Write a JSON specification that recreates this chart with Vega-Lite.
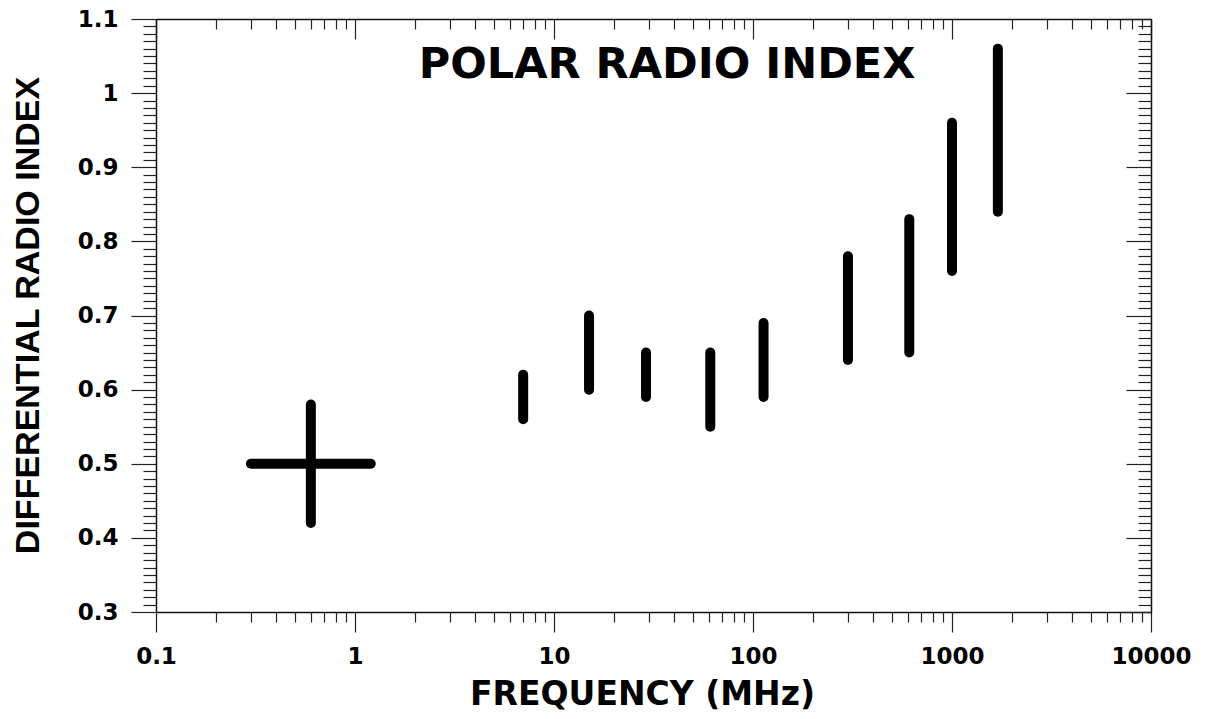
{
  "$schema": "https://vega.github.io/schema/vega-lite/v6.json",
  "width": 995,
  "height": 593,
  "autosize": {"type": "none"},
  "padding": {"left": 156, "top": 19, "right": 54, "bottom": 107},
  "background": "white",
  "config": {
    "view": {"stroke": null},
    "axis": {
      "grid": false,
      "domainColor": "#111",
      "domainWidth": 1.5,
      "tickColor": "#222",
      "tickWidth": 1.2,
      "labelFont": "DejaVu Sans",
      "labelFontWeight": "bold",
      "labelFontSize": 23,
      "labelColor": "black",
      "labelOverlap": false,
      "labelFlush": false,
      "titleColor": "black"
    }
  },
  "datasets": {
    "segments": [
      {"f1": 0.3, "f2": 1.2, "v1": 0.5, "v2": 0.5},
      {"f1": 0.6, "f2": 0.6, "v1": 0.42, "v2": 0.58},
      {"f1": 7, "f2": 7, "v1": 0.56, "v2": 0.62},
      {"f1": 15, "f2": 15, "v1": 0.60, "v2": 0.70},
      {"f1": 29, "f2": 29, "v1": 0.59, "v2": 0.65},
      {"f1": 61, "f2": 61, "v1": 0.55, "v2": 0.65},
      {"f1": 113, "f2": 113, "v1": 0.59, "v2": 0.69},
      {"f1": 300, "f2": 300, "v1": 0.64, "v2": 0.78},
      {"f1": 610, "f2": 610, "v1": 0.65, "v2": 0.83},
      {"f1": 1000, "f2": 1000, "v1": 0.76, "v2": 0.96},
      {"f1": 1700, "f2": 1700, "v1": 0.84, "v2": 1.06}
    ],
    "annotation": [
      {"text": "POLAR RADIO INDEX", "freq": 37, "index": 1.021}
    ]
  },
  "layer": [
    {
      "data": {"name": "segments"},
      "mark": {"type": "rule", "strokeWidth": 10, "strokeCap": "round", "color": "black"},
      "encoding": {
        "x": {
          "field": "f1",
          "type": "quantitative",
          "scale": {"type": "log", "domain": [0.1, 10000]},
          "axis": {
            "orient": "bottom",
            "values": [0.1,0.2,0.3,0.4,0.5,0.6,0.7,0.8,0.9,1,2,3,4,5,6,7,8,9,10,20,30,40,50,60,70,80,90,100,200,300,400,500,600,700,800,900,1000,2000,3000,4000,5000,6000,7000,8000,9000,10000],
            "format": "~g",
            "labelExpr": "abs(log(datum.value)/LN10 - round(log(datum.value)/LN10)) < 0.001 ? datum.label : ''",
            "tickSize": {"condition": {"test": "abs(log(datum.value)/LN10 - round(log(datum.value)/LN10)) < 0.001", "value": 20}, "value": 10},
            "labelPadding": 13,
            "title": "FREQUENCY (MHz)",
            "titleFont": "DejaVu Sans",
            "titleFontWeight": "bold",
            "titleFontSize": 33,
            "titleX": 486,
            "titleY": 92,
            "titleAlign": "center",
            "titleBaseline": "alphabetic"
          }
        },
        "x2": {"field": "f2"},
        "y": {
          "field": "v1",
          "type": "quantitative",
          "scale": {"domain": [0.3, 1.1], "nice": false, "zero": false},
          "axis": {
            "orient": "left",
            "values": [0.3,0.31,0.32,0.33,0.34,0.35,0.36,0.37,0.38,0.39,0.4,0.41,0.42,0.43,0.44,0.45,0.46,0.47,0.48,0.49,0.5,0.51,0.52,0.53,0.54,0.55,0.56,0.57,0.58,0.59,0.6,0.61,0.62,0.63,0.64,0.65,0.66,0.67,0.68,0.69,0.7,0.71,0.72,0.73,0.74,0.75,0.76,0.77,0.78,0.79,0.8,0.81,0.82,0.83,0.84,0.85,0.86,0.87,0.88,0.89,0.9,0.91,0.92,0.93,0.94,0.95,0.96,0.97,0.98,0.99,1,1.01,1.02,1.03,1.04,1.05,1.06,1.07,1.08,1.09,1.1],
            "format": "~g",
            "labelExpr": "abs(datum.value*10 - round(datum.value*10)) < 0.001 ? datum.label : ''",
            "tickSize": {"condition": {"test": "abs(datum.value*10 - round(datum.value*10)) < 0.001", "value": 25}, "value": 13},
            "labelPadding": 13,
            "title": "DIFFERENTIAL RADIO INDEX",
            "titleFont": "Liberation Sans",
            "titleFontWeight": "bold",
            "titleFontSize": 34,
            "titleAngle": 270,
            "titleX": -118,
            "titleY": 296,
            "titleAlign": "center",
            "titleBaseline": "alphabetic"
          }
        },
        "y2": {"field": "v2"}
      }
    },
    {
      "data": {"name": "annotation"},
      "mark": {"type": "text", "font": "DejaVu Sans", "fontWeight": "bold", "fontSize": 43, "align": "center", "baseline": "alphabetic", "color": "black"},
      "encoding": {
        "x": {
          "field": "freq",
          "type": "quantitative",
          "scale": {"type": "log", "domain": [0.1, 10000]},
          "axis": {
            "orient": "top",
            "values": [0.1,0.2,0.3,0.4,0.5,0.6,0.7,0.8,0.9,1,2,3,4,5,6,7,8,9,10,20,30,40,50,60,70,80,90,100,200,300,400,500,600,700,800,900,1000,2000,3000,4000,5000,6000,7000,8000,9000,10000],
            "labels": false,
            "title": null,
            "tickSize": {"condition": {"test": "abs(log(datum.value)/LN10 - round(log(datum.value)/LN10)) < 0.001", "value": -20}, "value": -10}
          }
        },
        "y": {
          "field": "index",
          "type": "quantitative",
          "scale": {"domain": [0.3, 1.1], "nice": false, "zero": false},
          "axis": {
            "orient": "right",
            "values": [0.3,0.31,0.32,0.33,0.34,0.35,0.36,0.37,0.38,0.39,0.4,0.41,0.42,0.43,0.44,0.45,0.46,0.47,0.48,0.49,0.5,0.51,0.52,0.53,0.54,0.55,0.56,0.57,0.58,0.59,0.6,0.61,0.62,0.63,0.64,0.65,0.66,0.67,0.68,0.69,0.7,0.71,0.72,0.73,0.74,0.75,0.76,0.77,0.78,0.79,0.8,0.81,0.82,0.83,0.84,0.85,0.86,0.87,0.88,0.89,0.9,0.91,0.92,0.93,0.94,0.95,0.96,0.97,0.98,0.99,1,1.01,1.02,1.03,1.04,1.05,1.06,1.07,1.08,1.09,1.1],
            "labels": false,
            "title": null,
            "tickSize": {"condition": {"test": "abs(datum.value*10 - round(datum.value*10)) < 0.001", "value": -25}, "value": -13}
          }
        },
        "text": {"field": "text"}
      }
    }
  ],
  "resolve": {"axis": {"x": "independent", "y": "independent"}}
}
